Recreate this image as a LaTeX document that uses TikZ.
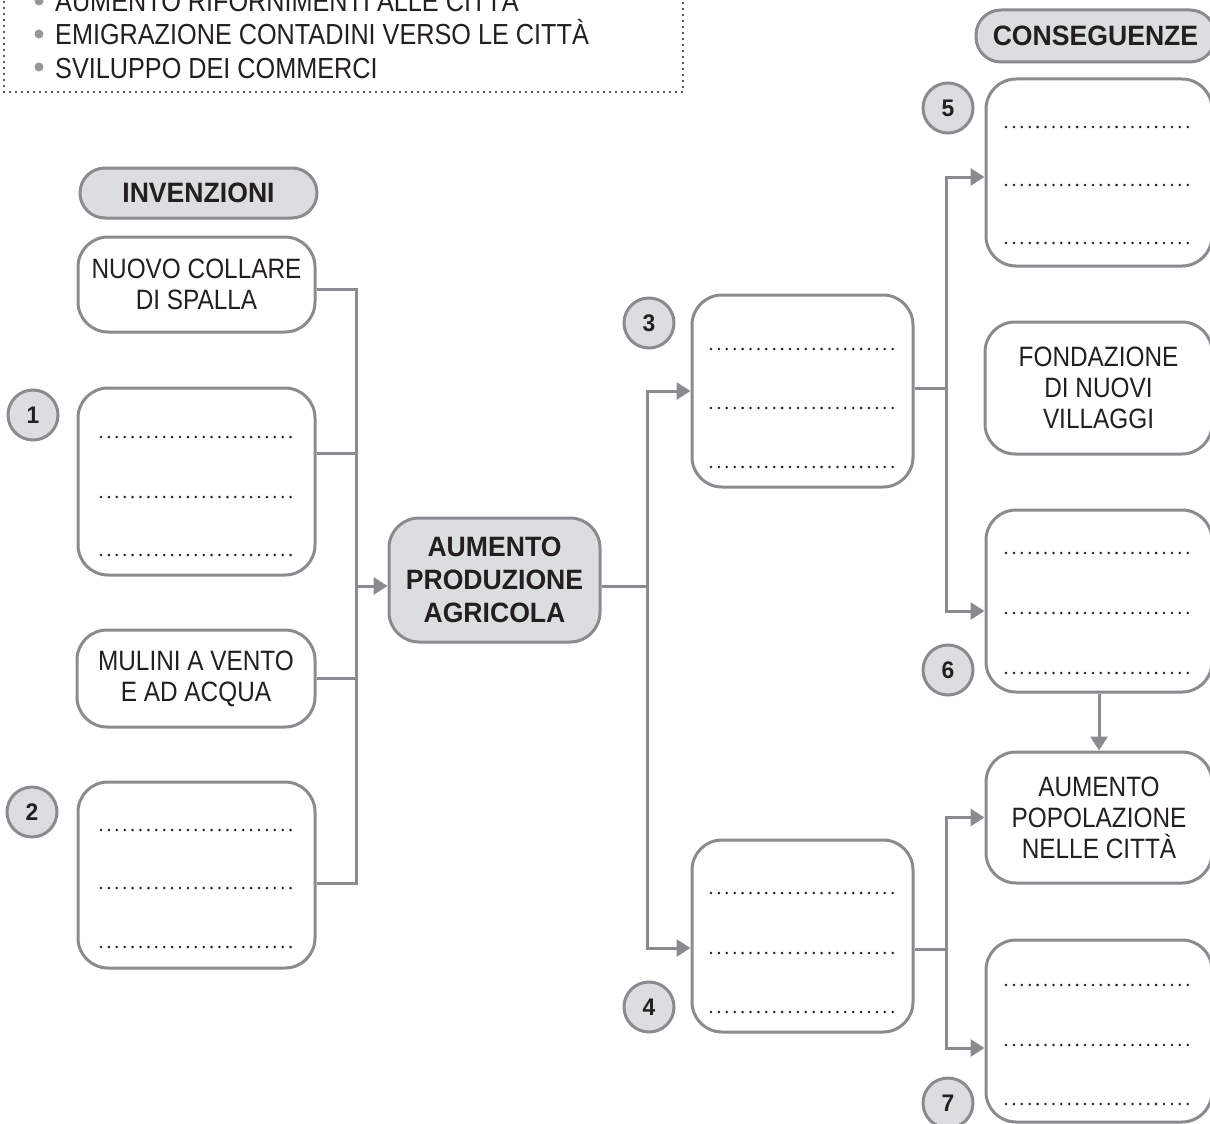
\documentclass[tikz,border=0pt]{standalone}
\usepackage{fontspec}
\setmainfont{Liberation Sans}[FakeStretch=0.87]
\newfontfamily\bfam{Liberation Sans}[FakeStretch=0.95]
\usetikzlibrary{arrows.meta}
\definecolor{lgray}{HTML}{8A8B8E}
\definecolor{fgray}{HTML}{DCDDDF}
\definecolor{ink}{HTML}{231F20}
\begin{document}
\begin{tikzpicture}[x=1pt,y=-1pt,
 box/.style={draw=lgray, line width=3pt, rounded corners=30pt, fill=white, inner sep=0pt,
   text=ink, align=center, font=\fontsize{28}{31}\selectfont},
 pill/.style={box, fill=fgray, rounded corners=25pt, font=\bfam\bfseries\fontsize{28}{33}\selectfont},
 num/.style={circle, draw=lgray, line width=3pt, fill=fgray, minimum size=50pt, inner sep=0pt,
   text=ink, font=\bfam\bfseries\fontsize{24}{24}\selectfont},
 conn/.style={draw=lgray, line width=3pt},
 arr/.style={conn, -{Triangle[length=14pt,width=17pt]}},
 dotline/.style={draw=ink, line width=2.8pt, line cap=round, dash pattern=on 0pt off 7.9pt},
 topdots/.style={draw=ink, line width=2.2pt, line cap=round, dash pattern=on 0pt off 6pt},
 toptext/.style={anchor=base west, inner sep=0pt, text=ink, font=\fontsize{29}{29}\selectfont},
]
\useasboundingbox (0,0) rectangle (1210,1124);
\clip (0,0) rectangle (1210,1124);

% top dotted box
\draw[topdots] (4,-40) -- (4,92) -- (683,92) -- (683,-40);
\node[toptext] (t1) at (55,12) {AUMENTO RIFORNIMENTI ALLE CITTÀ};
\node[toptext] (t2) at (55,45) {EMIGRAZIONE CONTADINI VERSO LE CITTÀ};
\node[toptext] (t3) at (55,78) {SVILUPPO DEI COMMERCI};
\foreach \y in {1,34,67} \fill[lgray!90] (39,\y) circle (4.5pt);

% left column
\node[pill, minimum width=237pt, minimum height=50pt] (inv) at (198.5,193) {INVENZIONI};
\node[box, minimum width=237pt, minimum height=95pt] (nuovo) at (196.5,284.5) {NUOVO COLLARE\\DI SPALLA};
\node[box, minimum width=237pt, minimum height=187pt] (b1) at (196.5,481.5) {};
\node[box, minimum width=238pt, minimum height=97pt] (mul) at (196,678.5) {MULINI A VENTO\\E AD ACQUA};
\node[box, minimum width=237pt, minimum height=186pt] (b2) at (196.5,875) {};
\node[num] (n1) at (33,415) {1};
\node[num] (n2) at (32,812) {2};

% centre
\node[pill, rounded corners=30pt, minimum width=211pt, minimum height=124pt] (prod) at (494.5,580)
  {AUMENTO\\PRODUZIONE\\AGRICOLA};

% middle column
\node[box, minimum width=221pt, minimum height=192pt] (b3) at (802.5,391) {};
\node[box, minimum width=221pt, minimum height=192pt] (b4) at (802.5,936) {};
\node[num] (n3) at (649,323) {3};
\node[num] (n4) at (649,1007) {4};

% right column
\node[pill, minimum width=239pt, minimum height=52pt] (cons) at (1095.5,36) {CONSEGUENZE};
\node[box, minimum width=226pt, minimum height=187pt] (b5) at (1099,172.5) {};
\node[box, minimum width=227pt, minimum height=132pt] (fond) at (1098.5,388) {FONDAZIONE\\DI NUOVI\\VILLAGGI};
\node[box, minimum width=226pt, minimum height=182pt] (b6) at (1099,601) {};
\node[box, minimum width=226pt, minimum height=131pt] (pop) at (1099,817.5) {AUMENTO\\POPOLAZIONE\\NELLE CITTÀ};
\node[box, minimum width=226pt, minimum height=182pt] (b7) at (1099,1031) {};
\node[num] (n5) at (948,108) {5};
\node[num] (n6) at (948,670) {6};
\node[num] (n7) at (948,1103) {7};

% dotted writing lines
\foreach \y in {437,497,555} \draw[dotline] (101,\y) -- (292,\y);
\foreach \y in {830,888,947} \draw[dotline] (101,\y) -- (292,\y);
\foreach \y in {349,408,467} \draw[dotline] (711,\y) -- (895,\y);
\foreach \y in {893,953,1012} \draw[dotline] (711,\y) -- (895,\y);
\foreach \y in {127,185,243} \draw[dotline] (1006,\y) -- (1192,\y);
\foreach \y in {553,613,673} \draw[dotline] (1006,\y) -- (1192,\y);
\foreach \y in {985,1045,1104} \draw[dotline] (1006,\y) -- (1192,\y);

% left bus
\coordinate (busL) at (356,586);
\draw[conn] ([yshift=-4.5pt]nuovo.east) -| (busL);
\draw[conn] ([yshift=-8pt]b2.east) -| (busL);
\draw[conn] ([yshift=28.5pt]b1.east) -- ([yshift=28.5pt]b1.east -| busL);
\draw[conn] (mul.east) -- (mul.east -| busL);
\draw[arr] (busL) -- (busL -| prod.west);

% centre bus
\coordinate (busM) at (647,586);
\draw[conn] (busL -| prod.east) -- (busM);
\draw[arr] (busM) |- (b3.west);
\draw[arr] (busM) |- ([yshift=-12pt]b4.west);

% upper right bus
\coordinate (busR1) at (946,388);
\draw[conn] ([yshift=3pt]b3.east) -- (busR1);
\draw[arr] (busR1) |- ([yshift=-4.5pt]b5.west);
\draw[arr] (busR1) |- ([yshift=-10pt]b6.west);

% lower right bus
\coordinate (busR2) at (946,949);
\draw[conn] ([yshift=-13pt]b4.east) -- (busR2);
\draw[arr] (busR2) |- (pop.west);
\draw[arr] (busR2) |- ([yshift=-17pt]b7.west);

% vertical link
\draw[arr] (b6.south) -- (pop.north);
\end{tikzpicture}
\end{document}
